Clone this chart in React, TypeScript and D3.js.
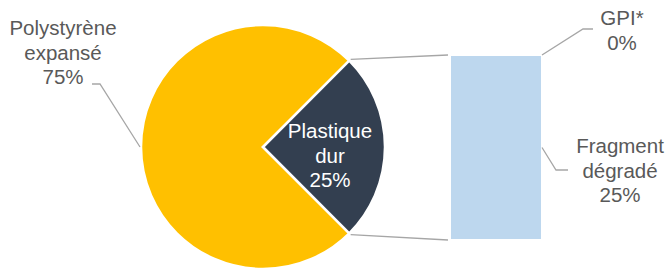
import * as d3 from "d3";

const pieCategories = ["Polystyrène expansé", "Plastique dur"];
const pieValues = [75, 25];
const pieColors = ["#FFC000", "#333F50"];

const barCategories = ["Fragment dégradé", "GPI*"];
const barValues = [25, 0];
const barColors = ["#BDD7EE", "#BDD7EE"];

const width = 667;
const height = 268;
const cx = 263;
const cy = 147;
const radius = 122;
const barLeft = 451;
const barRight = 541;
const barTop = 56;
const barBottom = 239;

const font = "'Liberation Sans', Arial, sans-serif";
const fontSize = 20.5;
const lineH = 24.5;
const textColor = "#595959";
const leaderColor = "#A6A6A6";

function Label({ x, y, lines, fill = textColor }: { x: number; y: number; lines: string[]; fill?: string }) {
  return (
    <text x={x} y={y} textAnchor="middle" fontFamily={font} fontSize={fontSize} fill={fill}>
      {lines.map((l, i) => (
        <tspan key={i} x={x} dy={i === 0 ? 0 : lineH}>
          {l}
        </tspan>
      ))}
    </text>
  );
}

export default function App() {
  const pie = d3
    .pie<number>()
    .sort(null)
    .startAngle((3 * Math.PI) / 4)
    .endAngle((3 * Math.PI) / 4 + 2 * Math.PI);
  const arcs = pie(pieValues);
  const arc = d3.arc<d3.PieArcDatum<number>>().innerRadius(0).outerRadius(radius);

  // bar of the split slice
  const total = d3.sum(barValues);
  const y = d3.scaleLinear().domain([0, total]).range([barBottom, barTop]);
  const cum = d3.cumsum(barValues);
  const segs = barValues.map((v, i) => ({ y0: cum[i] - v, y1: cum[i], name: barCategories[i], v }));

  // connector from split slice to bar
  const split = arcs[1];
  const pt = (a: number, r: number) => [cx + r * Math.sin(a), cy - r * Math.cos(a)];
  const [tx, ty] = pt(split.startAngle, radius + 2);
  const [bx, by] = pt(split.endAngle, radius + 2);

  const fragMid = y((segs[0].y0 + segs[0].y1) / 2);
  const gpiY = y(segs[1].y1);

  return (
    <svg width={width} height={height} style={{ position: "absolute", left: 0, top: 0, background: "#fff" }}>
      <g>
        {arcs.map((a, i) => (
          <path
            key={pieCategories[i]}
            d={arc(a) ?? ""}
            transform={`translate(${cx},${cy})`}
            fill={pieColors[i]}
            stroke="#fff"
            strokeWidth={2.5}
          />
        ))}
      </g>
      <line x1={tx} y1={ty} x2={barLeft - 3} y2={barTop - 1} stroke={leaderColor} strokeWidth={1.3} />
      <line x1={bx} y1={by} x2={barLeft - 3} y2={barBottom + 1} stroke={leaderColor} strokeWidth={1.3} />
      {segs.map((s, i) => (
        <rect
          key={s.name}
          x={barLeft}
          y={y(s.y1)}
          width={barRight - barLeft}
          height={y(s.y0) - y(s.y1)}
          fill={barColors[i]}
        />
      ))}

      {/* label leaders */}
      <polyline
        points={`${cx - radius - 1},${cy} ${100},${84} ${92},${84}`}
        fill="none"
        stroke={leaderColor}
        strokeWidth={1.3}
      />
      <polyline
        points={`${barRight + 1},${gpiY - 1} ${583},${29} ${593},${29}`}
        fill="none"
        stroke={leaderColor}
        strokeWidth={1.3}
      />
      <polyline
        points={`${barRight + 1},${fragMid} ${556},${170} ${568},${170}`}
        fill="none"
        stroke={leaderColor}
        strokeWidth={1.3}
      />

      <Label x={63} y={35} lines={["Polystyrène", "expansé", `${pieValues[0]}%`]} />
      <Label x={330} y={138} lines={["Plastique", "dur", `${pieValues[1]}%`]} fill="#fff" />
      <Label x={622} y={25} lines={["GPI*", `${barValues[1]}%`]} />
      <Label x={620} y={153} lines={["Fragment", "dégradé", `${barValues[0]}%`]} />
    </svg>
  );
}
